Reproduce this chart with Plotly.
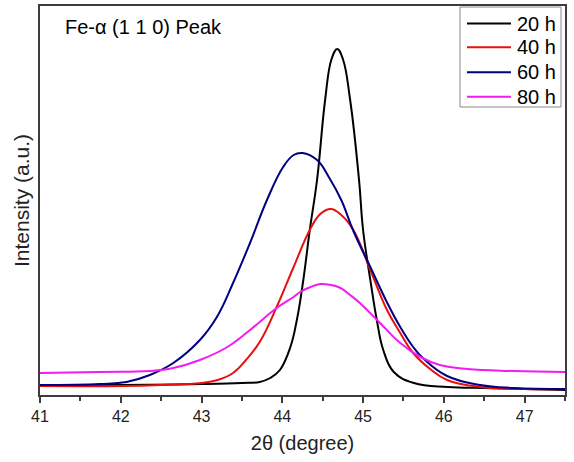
import plotly.graph_objects as go

# 2-theta (degree) / intensity (a.u.)
x_20h = [41.0, 42.0, 43.0, 43.5, 43.72, 43.85, 43.97, 44.10, 44.18, 44.26, 44.34, 44.43, 44.53, 44.61,
         44.68, 44.75, 44.84, 44.95, 45.0, 45.09, 45.17, 45.25, 45.38, 45.63, 46.05, 46.5, 47.0, 47.5]
y_20h = [10, 10, 11, 12, 13, 17, 25, 48, 75, 115, 165, 215, 295, 336,
         346, 336, 295, 215, 165, 115, 75, 45, 23, 12, 8, 7, 6, 5]

x_40h = [41.0, 42.0, 42.5, 43.0, 43.2, 43.39, 43.55, 43.72, 43.93, 44.14, 44.34, 44.47, 44.60, 44.73,
         44.88, 45.09, 45.29, 45.46, 45.62, 45.83, 46.04, 46.45, 47.0, 47.5]
y_40h = [9, 9, 10, 12, 15, 22, 35, 53, 88, 128, 165, 181, 186, 180,
         165, 125, 86, 62, 42, 26, 15, 8, 6, 6]

x_60h = [41.0, 41.74, 42.07, 42.36, 42.65, 42.98, 43.19, 43.39, 43.6, 43.81, 44.01, 44.14,
         44.25, 44.43, 44.59, 44.73, 44.88, 45.09, 45.3, 45.46, 45.62, 45.74, 46.04, 46.45, 46.86, 47.5]
y_60h = [10, 11, 13, 20, 32, 55, 78, 112, 152, 195, 228, 240,
         242, 235, 216, 195, 164, 128, 92, 68, 48, 37, 19, 10, 7, 6]

x_80h = [41.0, 41.74, 42.36, 42.65, 42.98, 43.32, 43.6, 43.93, 44.14, 44.22, 44.35, 44.47, 44.6,
         44.72, 44.84, 44.96, 45.21, 45.46, 45.71, 45.95, 46.29, 46.86, 47.5]
y_80h = [22, 23, 24, 27, 35, 48, 65, 87, 98, 103, 108, 111, 110,
         107, 100, 92, 72, 52, 38, 30, 26, 24, 23]

names = ["20 h", "40 h", "60 h", "80 h"]
colors = ["#000000", "#e8100f", "#000080", "#f01cf0"]
xs = [x_20h, x_40h, x_60h, x_80h]
ys = [y_20h, y_40h, y_60h, y_80h]

FONT = "Arial, Liberation Sans, sans-serif"

fig = go.Figure()
for name, color, x, y in zip(names, colors, xs, ys):
    fig.add_trace(go.Scatter(
        x=x, y=y, name=name, mode="lines",
        line=dict(color=color, width=2, shape="spline", smoothing=1.2),
        showlegend=False,
    ))

# legend box drawn by hand (Origin style, long sample lines)
fig.add_shape(type="rect", xref="paper", yref="paper",
              x0=0.80, x1=0.9924, y0=0.7404, y1=0.9974,
              line=dict(color="#8a8a8a", width=1), fillcolor="white", layer="above")
row_y = [0.955, 0.894, 0.830, 0.767]
for name, color, ry in zip(names, colors, row_y):
    fig.add_shape(type="line", xref="paper", yref="paper",
                  x0=0.8133, x1=0.8971, y0=ry, y1=ry,
                  line=dict(color=color, width=2))
    fig.add_annotation(x=0.9048, y=ry, xref="paper", yref="paper",
                       text=name, showarrow=False, xanchor="left", yanchor="middle",
                       font=dict(family=FONT, size=20, color="black"))

fig.add_annotation(x=0.043, y=0.946, xref="paper", yref="paper",
                   text="Fe-α (1 1 0) Peak", showarrow=False,
                   xanchor="left", yanchor="middle",
                   font=dict(family=FONT, size=20, color="black"))

fig.update_xaxes(
    range=[41, 47.5], dtick=1, tick0=41,
    showline=True, linecolor="#3c3c3c", linewidth=1.5, mirror=True,
    ticks="outside", ticklen=6, tickwidth=1.5, tickcolor="#3c3c3c",
    minor=dict(dtick=0.5, ticks="outside", ticklen=4, tickwidth=1.5, tickcolor="#3c3c3c"),
    showgrid=False, zeroline=False,
    tickfont=dict(family=FONT, size=16, color="#222"),
    title=dict(text="2θ (degree)", font=dict(family=FONT, size=20, color="#222"), standoff=12),
)
fig.update_yaxes(
    range=[0, 389],
    showline=True, linecolor="#3c3c3c", linewidth=1.5, mirror=True,
    ticks="", showticklabels=False, showgrid=False, zeroline=False,
    title=dict(text="Intensity (a.u.)", font=dict(family=FONT, size=21, color="#222"), standoff=3),
)

fig.update_layout(
    width=574, height=462,
    margin=dict(l=40, r=9, t=6, b=67, autoexpand=False),
    plot_bgcolor="white", paper_bgcolor="white",
    showlegend=False,
)

# page body margin would push the chart 8px right and down
fig.write_html("out.html", config={"displayModeBar": False},
               post_script="document.body.style.margin='0';")
